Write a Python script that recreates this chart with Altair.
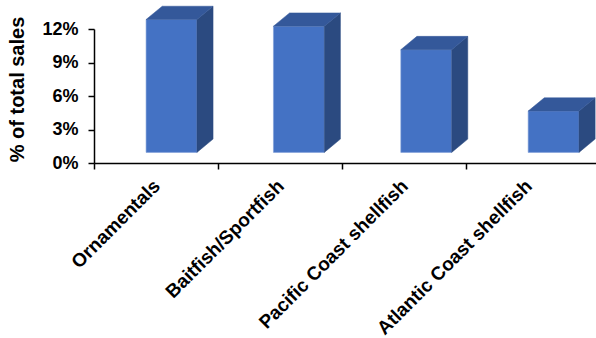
import altair as alt
import pandas as pd

# Share of total aquaculture sales by category
categories = ["Ornamentals", "Baitfish/Sportfish", "Pacific Coast shellfish", "Atlantic Coast shellfish"]
share_pct = [11.9, 11.3, 9.2, 3.7]
y_ticks = [0, 3, 6, 9, 12]
x_slot_ticks = [0, 1, 2, 3]

FONT = "Liberation Sans"
FRONT = "#4472C4"
SIDE = "#2B4A80"
TOP = "#34589A"

# Pseudo-3D column geometry: x in category slots, y in percentage points
BAR_START = 0.42   # left edge of first front face
BAR_STEP = 1.027   # spacing between columns (slight perspective)
BAR_W = 0.41       # front face width
DEPTH_X = 0.13     # receding depth, horizontal
DEPTH_Y = 1.19     # receding depth, vertical
LIFT = 0.95        # columns stand on the floor behind the axis line

front_rows, side_rows, top_rows = [], [], []
for i, (cat, v) in enumerate(zip(categories, share_pct)):
    x0 = BAR_START + i * BAR_STEP
    x1 = x0 + BAR_W
    y0 = LIFT
    y1 = LIFT + v
    front_rows.append({"cat": cat, "x0": x0, "x1": x1, "y0": y0, "y1": y1})
    side_rows.append({"cat": cat, "x": x1, "lo": y0, "hi": y1})
    side_rows.append({"cat": cat, "x": x1 + DEPTH_X, "lo": y0 + DEPTH_Y, "hi": y1 + DEPTH_Y})
    top_rows.append({"cat": cat, "y": y1, "l": x0, "r": x1})
    top_rows.append({"cat": cat, "y": y1 + DEPTH_Y, "l": x0 + DEPTH_X, "r": x1 + DEPTH_X})

label_rows = [{"cat": c, "pos": i + 0.5, "base": 0} for i, c in enumerate(categories)]

x_scale = alt.Scale(domain=[0, 4.048], nice=False, zero=False)
y_scale = alt.Scale(domain=[0, 12], nice=False, zero=False)

x_axis = alt.Axis(values=x_slot_ticks, labels=False, title=None, grid=False,
                  tickSize=6, tickWidth=1.5, tickColor="black",
                  domainColor="black", domainWidth=1.5)
y_axis = alt.Axis(values=y_ticks, labelExpr="datum.value + '%'", title="% of total sales",
                  grid=False, tickSize=6, tickWidth=1.5, tickColor="black",
                  domainColor="black", domainWidth=1.5,
                  labelFont=FONT, labelFontSize=18, labelFontWeight="bold", labelColor="black",
                  labelPadding=10, labelBaseline="middle",
                  titleFont=FONT, titleFontSize=20, titleFontWeight="bold", titleColor="black",
                  titleAngle=270, titleAlign="center", titleBaseline="alphabetic",
                  titleX=-71, titleY=60)

front = alt.Chart(pd.DataFrame(front_rows)).mark_rect(
    color=FRONT, stroke="#7F9FD8", strokeWidth=0.6
).encode(
    x=alt.X("x0:Q", scale=x_scale, axis=x_axis),
    x2="x1:Q",
    y=alt.Y("y0:Q", scale=y_scale, axis=y_axis),
    y2="y1:Q",
)

side = alt.Chart(pd.DataFrame(side_rows)).mark_area(
    color=SIDE, orient="vertical", stroke=SIDE, strokeWidth=0.5
).encode(
    x=alt.X("x:Q", scale=x_scale, axis=x_axis),
    y=alt.Y("lo:Q", scale=y_scale, axis=y_axis),
    y2="hi:Q",
    detail="cat:N",
)

top = alt.Chart(pd.DataFrame(top_rows)).mark_area(
    color=TOP, orient="horizontal", stroke=TOP, strokeWidth=0.5
).encode(
    y=alt.Y("y:Q", scale=y_scale, axis=y_axis),
    x=alt.X("l:Q", scale=x_scale, axis=x_axis),
    x2="r:Q",
    detail="cat:N",
)

labels = alt.Chart(pd.DataFrame(label_rows)).mark_text(
    angle=315, align="right", baseline="middle", font=FONT, fontSize=19,
    fontWeight="bold", color="black", yOffset=20, xOffset=1
).encode(
    x=alt.X("pos:Q", scale=x_scale, axis=x_axis),
    y=alt.Y("base:Q", scale=y_scale, axis=y_axis),
    text="cat:N",
)

chart = alt.layer(front, side, top, labels).properties(
    width=502,
    height=134,
    autosize=alt.AutoSizeParams(type="none"),
    padding={"left": 94, "top": 29, "right": 0, "bottom": 175},
    background="white",
).configure_view(stroke=None)

chart.save("out.html", embed_options={"renderer": "svg", "actions": False})
